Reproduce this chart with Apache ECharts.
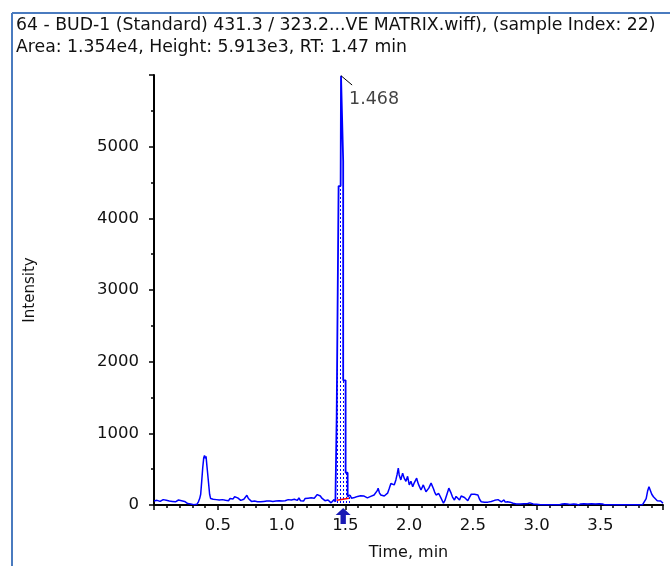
<!DOCTYPE html>
<html>
<head>
<meta charset="utf-8">
<title>BUD-1 XIC</title>
<script src="https://cdn.jsdelivr.net/npm/echarts@6/dist/echarts.min.js"></script>
<style>
  html, body { margin: 0; padding: 0; background: #fff; }
  #chart { width: 670px; height: 566px; }
</style>
</head>
<body>
<div id="chart"></div>
<script>
// header text
const titleLine = '64 - BUD-1 (Standard) 431.3 / 323.2...VE MATRIX.wiff), (sample Index: 22)'
const infoLine = 'Area: 1.354e4, Height: 5.913e3, RT: 1.47 min'

// [time (min), intensity]
const earlyScan = [
  [0.000, 55], [0.012, 40], [0.024, 65], [0.036, 45], [0.048, 50], [0.060, 60], [0.072, 75], [0.084, 60],
  [0.096, 65], [0.108, 45], [0.120, 55], [0.132, 40], [0.144, 50], [0.156, 65], [0.168, 45], [0.180, 55],
  [0.192, 70], [0.204, 80], [0.216, 60], [0.228, 40], [0.240, 50], [0.252, 35], [0.264, 20], [0.276, 30],
  [0.288, 15], [0.300, 25], [0.312, 5], [0.324, 20], [0.336, 10], [0.348, 45]
]
const impurityPeak = [
  [0.358, 90], [0.366, 150], [0.374, 330], [0.382, 520], [0.390, 660], [0.396, 690], [0.402, 650],
  [0.408, 680], [0.414, 560], [0.420, 450], [0.428, 300], [0.436, 150], [0.444, 90], [0.452, 70]
]
const midScan = [
  [0.464, 80], [0.476, 60], [0.488, 75], [0.500, 55], [0.512, 70], [0.524, 60], [0.536, 75], [0.548, 55],
  [0.560, 65], [0.572, 80], [0.584, 60], [0.596, 90], [0.608, 105], [0.620, 85], [0.632, 115], [0.644, 90],
  [0.656, 100], [0.668, 80], [0.680, 65], [0.692, 60], [0.704, 80], [0.716, 95], [0.728, 135], [0.740, 90],
  [0.752, 115], [0.764, 50], [0.776, 45], [0.788, 55], [0.800, 50], [0.812, 45], [0.824, 60], [0.836, 45],
  [0.848, 55], [0.860, 50], [0.872, 65], [0.884, 55], [0.896, 70], [0.908, 55], [0.920, 60], [0.932, 50],
  [0.944, 65], [0.956, 55], [0.968, 45], [0.980, 60], [0.992, 50], [1.004, 55], [1.016, 45], [1.028, 60],
  [1.040, 85], [1.052, 75], [1.064, 95], [1.076, 70], [1.088, 90], [1.100, 80], [1.112, 95], [1.124, 65],
  [1.136, 100], [1.148, 60], [1.160, 85], [1.172, 55], [1.184, 90], [1.196, 75], [1.208, 95], [1.220, 80],
  [1.232, 100], [1.244, 110], [1.256, 95], [1.268, 120], [1.280, 145], [1.292, 165], [1.304, 125], [1.316, 95],
  [1.328, 75], [1.340, 60], [1.352, 50], [1.364, 70], [1.376, 45], [1.388, 30], [1.400, 55], [1.412, 75],
  [1.422, 45]
]
// outline of the integrated peak as drawn (stepped sides, pointed apex)
const budPeak = [
  [1.422, 45], [1.431, 60], [1.432, 1240], [1.446, 1240], [1.447, 4450], [1.463, 4450], [1.466, 5990],
  [1.483, 4800], [1.483, 1740], [1.502, 1740], [1.502, 450], [1.518, 450], [1.518, 120], [1.536, 140]
]
const postPeak = [
  [1.536, 140], [1.548, 95], [1.560, 90], [1.572, 105], [1.584, 100], [1.596, 120], [1.608, 110], [1.620, 130],
  [1.634, 150], [1.647, 125], [1.660, 125], [1.673, 100], [1.686, 90], [1.699, 120], [1.712, 115], [1.725, 140],
  [1.739, 165], [1.750, 200], [1.757, 235], [1.767, 170], [1.778, 140], [1.790, 150], [1.805, 125], [1.818, 150],
  [1.831, 165], [1.844, 230], [1.857, 300], [1.870, 325], [1.883, 280], [1.896, 350], [1.905, 420], [1.915, 515],
  [1.922, 420], [1.935, 350], [1.949, 445], [1.961, 375], [1.975, 330], [1.988, 400], [2.001, 280], [2.014, 330],
  [2.028, 255], [2.040, 310], [2.059, 375], [2.067, 320], [2.075, 280], [2.093, 210], [2.111, 280], [2.122, 230],
  [2.132, 185], [2.143, 200], [2.154, 235], [2.172, 305], [2.190, 230], [2.200, 180], [2.211, 140], [2.232, 160],
  [2.250, 95], [2.269, 25], [2.280, 60], [2.290, 70], [2.302, 180], [2.311, 235], [2.320, 200], [2.329, 165],
  [2.340, 110], [2.355, 70], [2.368, 120], [2.382, 115], [2.395, 70], [2.408, 125], [2.421, 100], [2.434, 105],
  [2.447, 80], [2.460, 60], [2.474, 110], [2.487, 150], [2.500, 145], [2.513, 150], [2.526, 140], [2.539, 140],
  [2.552, 80], [2.565, 45], [2.578, 40], [2.591, 40], [2.604, 45], [2.618, 40], [2.631, 60], [2.644, 50],
  [2.657, 45], [2.670, 65], [2.684, 85], [2.697, 75], [2.710, 95], [2.723, 45], [2.734, 60], [2.744, 70],
  [2.753, 40], [2.762, 25], [2.771, 45], [2.780, 55], [2.791, 40], [2.802, 45], [2.815, 25], [2.828, 10],
  [2.840, 15], [2.855, 18], [2.870, 15], [2.885, 15], [2.900, 18], [2.915, 15], [2.930, 20], [2.946, 30],
  [2.959, 20], [2.972, 15], [2.985, 18], [2.998, 10], [3.010, 3]
]
const lateScan = [
  [3.030, 2], [3.060, 4], [3.090, 3], [3.120, 5], [3.150, 3], [3.180, 4], [3.200, 15], [3.220, 18],
  [3.240, 15], [3.260, 8], [3.275, 3], [3.290, 15], [3.310, 12], [3.327, 0], [3.345, 15], [3.370, 16],
  [3.400, 15], [3.430, 16], [3.460, 15], [3.490, 16], [3.515, 15], [3.536, 2], [3.560, 3], [3.600, 2],
  [3.640, 3], [3.680, 2], [3.720, 3], [3.760, 2], [3.800, 3], [3.830, 5], [3.845, 12], [3.858, 90],
  [3.870, 200], [3.880, 255], [3.890, 230], [3.902, 150], [3.915, 115], [3.930, 95], [3.945, 60], [3.958, 70],
  [3.972, 55], [3.990, 25]
]
const preTrace = [...earlyScan, ...impurityPeak, ...midScan]
const postTrace = [...postPeak, ...lateScan]

// integration annotations
const peakBaseline = [[1.432, 65], [1.528, 95]]
const apexPoint = [1.466, 5990]
const apexLabel = '1.468'
const leaderEnd = [1.553, 5860]
const rtMarker = [1.483, 0]

const font = 'DejaVu Sans'
const ink = '#111'

// dotted fill for the integrated area
const dots = document.createElement('canvas')
dots.width = 3
dots.height = 4
const ctx = dots.getContext('2d')
ctx.fillStyle = '#0000ff'
ctx.fillRect(1, 1, 1, 2)

const chart = echarts.init(document.getElementById('chart'))

const traceLine = { color: '#0000ff', width: 1.5 }

const option = {
  animation: false,
  backgroundColor: '#fff',
  title: {
    text: titleLine + '\n' + infoLine,
    left: 16,
    top: 15,
    padding: 0,
    textStyle: { fontFamily: font, fontSize: 17.3, fontWeight: 'normal', color: ink, lineHeight: 22 }
  },
  graphic: [
    { type: 'line', shape: { x1: 12, y1: 13, x2: 670, y2: 13 }, style: { stroke: '#4a7bbf', lineWidth: 2 } },
    { type: 'line', shape: { x1: 12, y1: 13, x2: 12, y2: 566 }, style: { stroke: '#4a7bbf', lineWidth: 2 } }
  ],
  grid: { left: 154, right: 7, top: 75, bottom: 59 },
  xAxis: {
    type: 'value',
    min: 0,
    max: 3.99,
    interval: 0.5,
    name: 'Time, min',
    nameLocation: 'middle',
    nameGap: 40,
    nameTextStyle: { fontFamily: font, fontSize: 16, color: ink },
    axisLine: { onZero: false, lineStyle: { color: '#000', width: 2 } },
    axisTick: { length: 5, lineStyle: { color: '#000', width: 1.5 } },
    minorTick: { show: true, splitNumber: 5, length: 3, lineStyle: { color: '#000', width: 1.5 } },
    axisLabel: {
      showMinLabel: false,
      showMaxLabel: false,
      formatter: v => v.toFixed(1),
      fontFamily: font,
      fontSize: 16.5,
      color: ink,
      margin: 12
    },
    splitLine: { show: false }
  },
  yAxis: {
    type: 'value',
    min: 0,
    max: 6000,
    interval: 1000,
    name: 'Intensity',
    nameLocation: 'middle',
    nameGap: 116,
    nameTextStyle: { fontFamily: font, fontSize: 15, color: ink },
    axisLine: { show: true, lineStyle: { color: '#000', width: 2 } },
    axisTick: { show: true, length: 5, lineStyle: { color: '#000', width: 1.5 } },
    minorTick: { show: true, splitNumber: 2, length: 3, lineStyle: { color: '#000', width: 1.5 } },
    axisLabel: {
      formatter: v => (v >= 6000 ? '' : v),
      fontFamily: font,
      fontSize: 16.5,
      color: ink,
      margin: 15
    },
    splitLine: { show: false }
  },
  series: [
    {
      name: 'area',
      type: 'line',
      data: budPeak,
      symbol: 'none',
      silent: true,
      z: 1,
      lineStyle: { opacity: 0 },
      areaStyle: { color: { image: dots, repeat: 'repeat' }, opacity: 1 }
    },
    { name: 'XIC', type: 'line', data: preTrace, symbol: 'none', z: 2, lineStyle: traceLine },
    {
      name: 'XIC peak',
      type: 'line',
      data: budPeak,
      symbol: 'none',
      z: 2,
      lineStyle: { color: '#0000ff', width: 1.8 }
    },
    { name: 'XIC tail', type: 'line', data: postTrace, symbol: 'none', z: 2, lineStyle: traceLine },
    {
      name: 'baseline',
      type: 'line',
      data: peakBaseline,
      symbol: 'none',
      z: 3,
      lineStyle: { color: '#ff0000', width: 1.5 }
    },
    {
      name: 'leader',
      type: 'line',
      data: [apexPoint, leaderEnd],
      symbol: 'none',
      z: 4,
      lineStyle: { color: '#000', width: 1 }
    },
    {
      name: 'apex',
      type: 'scatter',
      data: [apexPoint],
      symbolSize: 0,
      z: 5,
      label: {
        show: true,
        formatter: apexLabel,
        position: [8, 15],
        fontFamily: font,
        fontSize: 17.5,
        color: ink
      }
    },
    {
      name: 'RT',
      type: 'scatter',
      data: [rtMarker],
      clip: false,
      symbol: 'path://M7,0 L14,7 L9.5,7 L9.5,16 L4.5,16 L4.5,7 L0,7 Z',
      symbolSize: [15, 16],
      symbolOffset: [0, 11],
      z: 5,
      itemStyle: { color: '#1a1ab4', opacity: 1 }
    }
  ]
}

chart.setOption(option)
</script>
</body>
</html>
